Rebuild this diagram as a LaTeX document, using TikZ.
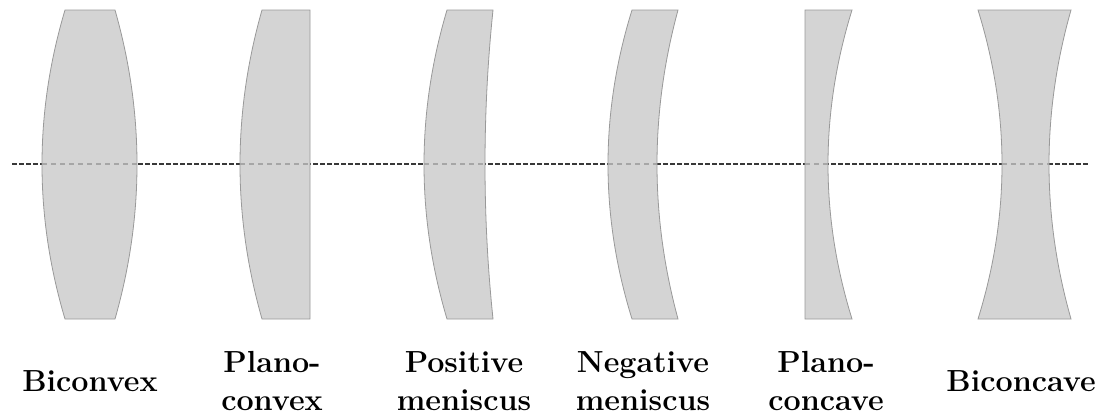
\documentclass[tikz,border=0pt]{standalone}
\usepackage{fontspec}

\tikzset{
  lensfill/.style={fill=black!17, draw=black!40, line width=0.8pt},
  axisout/.style={draw=black!78, line width=2.5pt, dash pattern=on 4.5pt off 2.5pt},
  axisin/.style={draw=black!35, line width=1.4pt, dash pattern=on 5pt off 4pt},
  nome/.style={align=center, inner sep=0pt, font=\fontsize{30.5}{38}\selectfont\bfseries}
}

% lente: estremo sinistro, centro sinistro, estremo destro, centro destro
\newcommand{\lente}[4]{%
  \pgfmathsetmacro{\ctrlL}{(4*#2-#1)/3}%
  \pgfmathsetmacro{\ctrlR}{(4*#4-#3)/3}%
  \filldraw[lensfill] (#1,10) -- (#3,10)
    .. controls (\ctrlR,113) and (\ctrlR,216) .. (#3,319)
    -- (#1,319)
    .. controls (\ctrlL,216) and (\ctrlL,113) .. cycle;
  \draw[axisin] (#2,164) -- (#4,164);
}

\begin{document}
\begin{tikzpicture}[x=1pt, y=-1pt]
    \useasboundingbox (0,0) rectangle (1107,415);
    % asse ottico
    \coordinate (asse-s) at (12,164);
    \coordinate (asse-d) at (1088,164);
    \draw[axisout] (asse-s) -- (asse-d);
    % lenti convergenti
    \lente{65}{42}{115}{137}
    \lente{262}{240}{310}{310}
    \lente{447}{424}{493}{485}
    % lenti divergenti
    \lente{632}{608}{678}{657}
    \lente{805}{805}{852}{828}
    \lente{978}{1002}{1071}{1049}
    % nomi
    \node[nome] (biconvessa) at (90,381) {Biconvex};
    \node[nome] (pianoconvessa) at (272,381) {Plano-\\convex};
    \node[nome] (menpos) at (464,381) {Positive\\meniscus};
    \node[nome] (menneg) at (643,381) {Negative\\meniscus};
    \node[nome] (pianoconcava) at (826,381) {Plano-\\concave};
    \node[nome] (biconcava) at (1021,381) {Biconcave};
\end{tikzpicture}
\end{document}
